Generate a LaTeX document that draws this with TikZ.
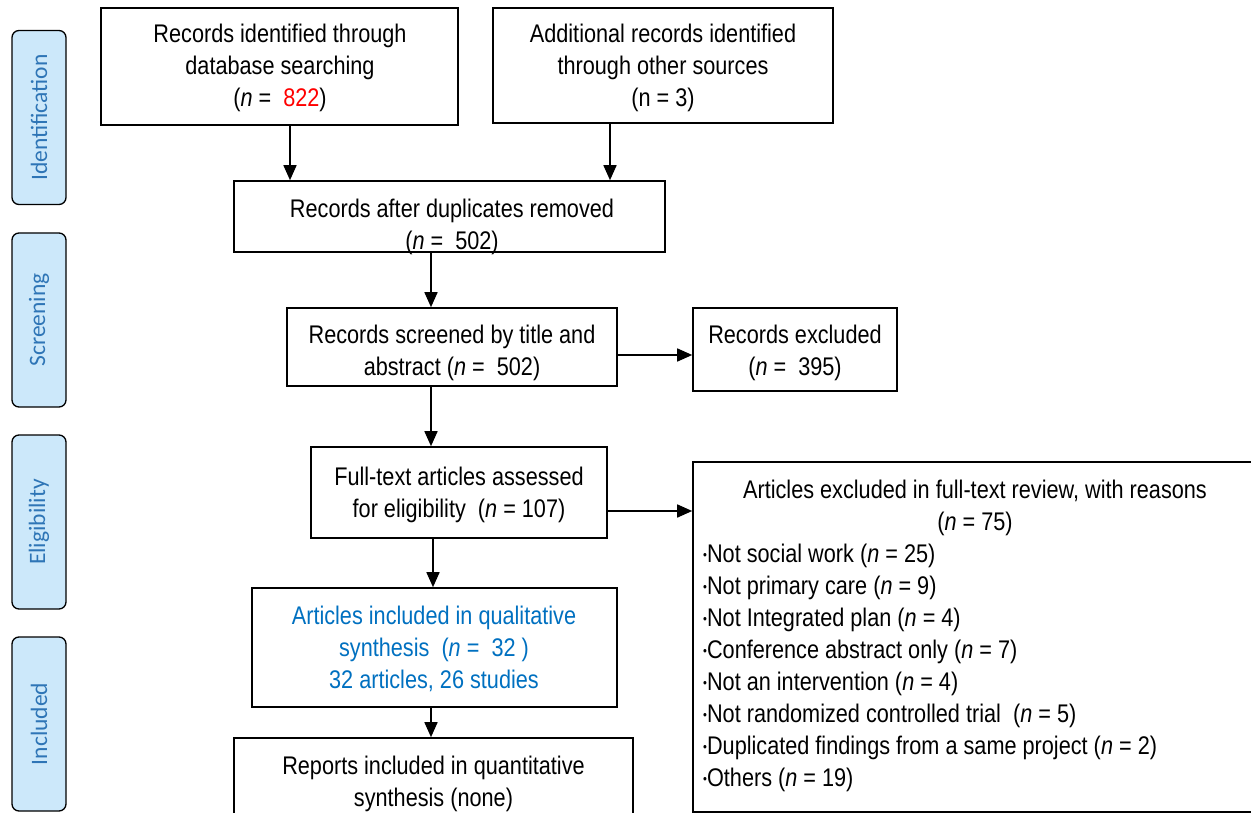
\documentclass[tikz,border=0pt]{standalone}
\usepackage{fontspec}
\setmainfont{Liberation Sans}[FakeStretch=0.85]
\newfontfamily\sidefont{Carlito}
\usetikzlibrary{arrows.meta}
\definecolor{sideblue}{RGB}{46,117,182}
\definecolor{sidefill}{RGB}{204,232,250}
\definecolor{incblue}{RGB}{0,112,192}
\newcommand{\nn}{\textit{n}}
\newcommand{\bul}{\raisebox{3pt}{\fontsize{13}{13}\selectfont •}}
\begin{document}
\begin{tikzpicture}[x=1pt,y=-1pt,
  box/.style={draw, line width=1.6pt, inner sep=0pt},
  txt/.style={align=center, inner sep=0pt, font=\fontsize{25.5}{32}\selectfont},
  side/.style={draw, line width=1.3pt, fill=sidefill, rounded corners=7pt, minimum width=54pt, minimum height=174pt, inner sep=0pt},
  sidetxt/.style={rotate=90, text=sideblue, font=\sidefont\fontsize{23.5}{26}\selectfont},
  arr/.style={line width=1.6pt, -{Triangle[length=15pt,width=13pt]}}]
\useasboundingbox (0,0) rectangle (1251,813);
\clip (0,0) rectangle (1251,813);

% side labels
\node[side] (s1) at (39,117.5) {};
\node[sidetxt] (s1t) at (s1.center) {Identification};
\node[side] (s2) at (39,320) {};
\node[sidetxt] (s2t) at (s2.center) {Screening};
\node[side] (s3) at (39,522) {};
\node[sidetxt] (s3t) at (s3.center) {Eligibility};
\node[side] (s4) at (39,724) {};
\node[sidetxt] (s4t) at (s4.center) {Included};

% boxes
\node[box, minimum width=357pt, minimum height=117pt] (b1) at (279.5,66.5) {};
\node[txt] (t1) at (280,68) {Records identified through\\database searching\\(\nn{} = \ \textcolor{red}{822})};
\node[box, minimum width=340pt, minimum height=115pt] (b2) at (663,65.5) {};
\node[txt] (t2) at (663,68) {Additional records identified\\through other sources\\(n = 3)};
\node[box, minimum width=431pt, minimum height=71pt] (b3) at (449.5,216.5) {};
\node[txt] (t3) at (452,226.5) {Records after duplicates removed\\(\nn{} = \ 502)};
\node[box, minimum width=330pt, minimum height=78pt] (b4) at (452,347) {};
\node[txt] (t4) at (452,352.5) {Records screened by title and\\abstract (\nn{} = \ 502)};
\node[box, minimum width=204pt, minimum height=83pt] (b5) at (795,349.5) {};
\node[txt] (t5) at (795,352.5) {Records excluded\\(\nn{} = \ 395)};
\node[box, minimum width=296pt, minimum height=91pt] (b6) at (459,492.5) {};
\node[txt] (t6) at (459,494.5) {Full-text articles assessed\\for eligibility \ (\nn{} = 107)};
\node[box, minimum width=580pt, minimum height=350pt] (b7) at (983,637) {};
\node[txt] (t7) at (975,507.5) {Articles excluded in full-text review, with reasons\\(\nn{} = 75)};
\node[txt, anchor=north west, align=left] (t7b) at (703,544) {\bul Not social work (\nn{} = 25)\\
\bul Not primary care (\nn{} = 9)\\
\bul Not Integrated plan (\nn{} = 4)\\
\bul Conference abstract only (\nn{} = 7)\\
\bul Not an intervention (\nn{} = 4)\\
\bul Not randomized controlled trial \ (\nn{} = 5)\\
\bul Duplicated findings from a same project (\nn{} = 2)\\
\bul Others (\nn{} = 19)};
\node[box, minimum width=365pt, minimum height=119pt] (b8) at (434.5,647.5) {};
\node[txt, text=incblue] (t8) at (434,649) {Articles included in qualitative\\synthesis \ (\nn{} = \ 32 )\\32 articles, 26 studies};
\node[box, minimum width=399pt, minimum height=92pt] (b9) at (433.5,784) {};
\node[txt] (t9) at (433.5,784) {Reports included in quantitative\\synthesis (none)};

% arrows
\draw[arr] ([xshift=10.5pt]b1.south) -- ([xshift=10.5pt]b1.south |- b3.north);
\draw[arr] ([xshift=-53pt]b2.south) -- ([xshift=-53pt]b2.south |- b3.north);
\draw[arr] ([xshift=-18.5pt]b3.south) -- ([xshift=-18.5pt]b3.south |- b4.north);
\draw[arr] ([yshift=-8pt]b4.east) -- ([yshift=-8pt]b4.east -| b5.west);
\draw[arr] ([xshift=-21pt]b4.south) -- ([xshift=-21pt]b4.south |- b6.north);
\draw[arr] ([yshift=-18.5pt]b6.east) -- ([yshift=-18.5pt]b6.east -| b7.west);
\draw[arr] ([xshift=-26pt]b6.south) -- ([xshift=-26pt]b6.south |- b8.north);
\draw[arr] ([xshift=-3.5pt]b8.south) -- ([xshift=-3.5pt]b8.south |- b9.north);
\end{tikzpicture}
\end{document}
